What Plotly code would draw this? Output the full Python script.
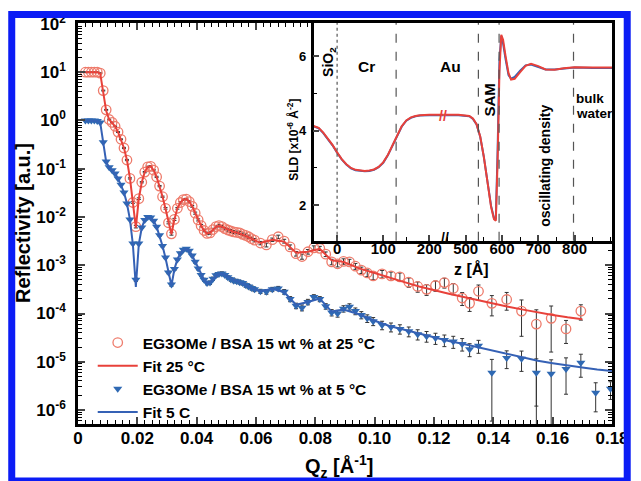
import plotly.graph_objects as go

# ---------------- data: reflectivity (log10 R) ----------------
q_low = [0.0025, 0.0035, 0.0045, 0.0055, 0.0065, 0.0075, 0.0085, 0.0095, 0.0105, 0.0115,
         0.0125, 0.0135, 0.0145, 0.0155, 0.0165, 0.0175, 0.0185, 0.0195, 0.0205, 0.0215,
         0.0225, 0.0235, 0.0245, 0.0255, 0.0265, 0.0275, 0.0285, 0.0295, 0.0305, 0.0315,
         0.0325, 0.0335, 0.0345, 0.0355, 0.0365, 0.0375, 0.0385, 0.0395, 0.0405, 0.0415,
         0.0425, 0.0435, 0.0445, 0.0455, 0.0465, 0.0475, 0.0485, 0.0495, 0.0505, 0.0515,
         0.0525, 0.0535, 0.0545, 0.0555, 0.0565, 0.0575, 0.0585, 0.0595]
q_mid = [0.0615, 0.0635, 0.0655, 0.0675, 0.0695, 0.0715, 0.0735, 0.0755, 0.0775, 0.0795,
         0.0815, 0.0835, 0.0855, 0.0875, 0.0895, 0.0915, 0.0935, 0.0955, 0.0975, 0.0995]
q_high = [0.1025, 0.1055, 0.1085, 0.1115, 0.1145, 0.1175, 0.1205, 0.1235, 0.1265, 0.1295, 0.1320]
q_tail_25 = [0.1350, 0.1395, 0.1445, 0.1495, 0.1545, 0.1595, 0.1645, 0.1695]
q_tail_5 = [0.1350, 0.1395, 0.1445, 0.1495, 0.1545, 0.1595, 0.1645, 0.1695, 0.1745, 0.1795]

logr25_low = [1.00, 1.00, 1.00, 1.00, 1.00, 0.98, 0.62, 0.22, 0.02, -0.04,
              -0.12, -0.24, -0.39, -0.57, -0.82, -1.20, -1.70, -2.20, -1.62, -1.28,
              -1.07, -0.96, -0.95, -1.03, -1.17, -1.36, -1.58, -1.82, -2.12, -2.35,
              -2.05, -1.82, -1.70, -1.64, -1.63, -1.68, -1.78, -1.92, -2.06, -2.18,
              -2.28, -2.34, -2.33, -2.26, -2.20, -2.18, -2.20, -2.24, -2.27, -2.29,
              -2.31, -2.32, -2.33, -2.36, -2.38, -2.41, -2.45, -2.48]
logr25_mid = [-2.54, -2.58, -2.47, -2.41, -2.50, -2.62, -2.76, -2.82, -2.72, -2.64,
              -2.65, -2.77, -2.93, -2.97, -2.92, -2.93, -3.02, -3.10, -3.16, -3.22]
logr25_high = [-3.18, -3.22, -3.24, -3.35, -3.44, -3.50, -3.42, -3.36, -3.48, -3.68, -3.79]
logr25_tail = [-3.54, -3.79, -3.71, -3.95, -4.22, -4.10, -4.32, -3.95]

logr5_low = [0.00, 0.00, 0.00, 0.00, -0.01, -0.04, -0.45, -0.85, -0.97, -1.03,
             -1.10, -1.20, -1.33, -1.49, -1.72, -2.05, -2.55, -3.30, -2.55, -2.22,
             -2.06, -2.00, -2.01, -2.08, -2.20, -2.38, -2.60, -2.84, -3.15, -3.40,
             -3.08, -2.88, -2.75, -2.68, -2.66, -2.70, -2.80, -2.93, -3.07, -3.20,
             -3.30, -3.37, -3.36, -3.28, -3.21, -3.18, -3.17, -3.20, -3.25, -3.29,
             -3.32, -3.33, -3.35, -3.37, -3.41, -3.44, -3.47, -3.50]
logr5_mid = [-3.54, -3.55, -3.50, -3.48, -3.55, -3.70, -3.84, -3.88, -3.76, -3.66,
             -3.70, -3.85, -3.98, -4.00, -3.90, -3.86, -3.95, -4.03, -4.10, -4.16]
logr5_high = [-4.24, -4.28, -4.32, -4.37, -4.43, -4.47, -4.51, -4.55, -4.58, -4.63, -4.74]
logr5_tail = [-4.67, -5.23, -4.92, -4.94, -5.23, -5.25, -5.15, -5.02, -5.64, -5.56]

# relative error (sigma / R)
err25_low = [0.02, 0.02, 0.02, 0.02, 0.02, 0.02, 0.02, 0.02, 0.02, 0.02,
             0.02, 0.02, 0.02, 0.03, 0.03, 0.03, 0.04, 0.06, 0.04, 0.03,
             0.03, 0.03, 0.03, 0.03, 0.03, 0.03, 0.03, 0.04, 0.05, 0.06,
             0.05, 0.04, 0.04, 0.04, 0.04, 0.04, 0.04, 0.05, 0.05, 0.06,
             0.06, 0.06, 0.06, 0.06, 0.06, 0.06, 0.06, 0.06, 0.06, 0.07,
             0.07, 0.07, 0.07, 0.07, 0.08, 0.08, 0.08, 0.08]
err25_mid = [0.08, 0.09, 0.08, 0.08, 0.09, 0.10, 0.11, 0.12, 0.11, 0.10,
             0.10, 0.11, 0.13, 0.14, 0.13, 0.13, 0.14, 0.15, 0.16, 0.17]
err25_high = [0.18, 0.20, 0.20, 0.22, 0.24, 0.25, 0.24, 0.23, 0.26, 0.30, 0.32]
err25_tail = [0.35, 0.45, 0.40, 0.70, 0.98, 0.80, 0.50, 0.35]

err5_low = [0.02, 0.02, 0.02, 0.02, 0.02, 0.02, 0.02, 0.02, 0.02, 0.02,
            0.02, 0.02, 0.03, 0.03, 0.03, 0.04, 0.05, 0.08, 0.05, 0.04,
            0.04, 0.04, 0.04, 0.04, 0.04, 0.04, 0.05, 0.05, 0.06, 0.08,
            0.06, 0.05, 0.05, 0.05, 0.05, 0.05, 0.05, 0.06, 0.06, 0.07,
            0.07, 0.08, 0.08, 0.08, 0.08, 0.08, 0.08, 0.08, 0.08, 0.09,
            0.09, 0.09, 0.09, 0.09, 0.10, 0.10, 0.10, 0.10]
err5_mid = [0.10, 0.11, 0.10, 0.10, 0.11, 0.12, 0.13, 0.14, 0.13, 0.12,
            0.12, 0.13, 0.15, 0.16, 0.15, 0.15, 0.16, 0.17, 0.18, 0.19]
err5_high = [0.20, 0.21, 0.22, 0.23, 0.24, 0.25, 0.26, 0.27, 0.28, 0.29, 0.30]
err5_tail = [0.30, 0.90, 0.40, 0.45, 0.95, 0.95, 0.70, 0.50, 0.60, 0.40]

# fits
fitq_coarse_25 = [0.0615, 0.0655, 0.0695, 0.0735, 0.0775, 0.0815, 0.0855, 0.0895, 0.0950, 0.1000,
                  0.1050, 0.1100, 0.1150, 0.1200, 0.1250, 0.1300, 0.1350, 0.1400, 0.1450, 0.1500,
                  0.1550, 0.1600, 0.1650, 0.1700]
fitq_coarse_5 = [0.0615, 0.0655, 0.0695, 0.0735, 0.0775, 0.0815, 0.0855, 0.0895, 0.0950, 0.1000,
                 0.1050, 0.1100, 0.1150, 0.1200, 0.1250, 0.1300, 0.1350, 0.1400, 0.1450, 0.1500,
                 0.1550, 0.1600, 0.1650, 0.1700, 0.1750, 0.1800]
fit25_low = [1.00, 1.00, 1.00, 1.00, 1.00, 0.97, 0.60, 0.20, 0.02, -0.04,
             -0.12, -0.24, -0.39, -0.57, -0.82, -1.19, -1.70, -2.22, -1.62, -1.28,
             -1.07, -0.96, -0.95, -1.03, -1.17, -1.36, -1.58, -1.83, -2.12, -2.36,
             -2.05, -1.82, -1.70, -1.64, -1.63, -1.68, -1.78, -1.92, -2.06, -2.18,
             -2.28, -2.34, -2.33, -2.27, -2.21, -2.19, -2.20, -2.23, -2.26, -2.29,
             -2.31, -2.32, -2.34, -2.36, -2.39, -2.42, -2.45, -2.48]
fit25_coarse = [-2.54, -2.47, -2.51, -2.74, -2.72, -2.66, -2.90, -2.93, -3.07, -3.16,
                -3.26, -3.35, -3.44, -3.52, -3.59, -3.66, -3.73, -3.80, -3.86, -3.92,
                -3.98, -4.03, -4.08, -4.12]
fit5_low = [0.00, 0.00, 0.00, 0.00, -0.01, -0.05, -0.47, -0.86, -0.97, -1.03,
            -1.10, -1.20, -1.33, -1.49, -1.72, -2.05, -2.57, -3.45, -2.56, -2.22,
            -2.06, -2.00, -2.01, -2.08, -2.20, -2.38, -2.60, -2.85, -3.17, -3.42,
            -3.08, -2.88, -2.75, -2.68, -2.66, -2.70, -2.80, -2.93, -3.07, -3.20,
            -3.30, -3.37, -3.36, -3.29, -3.22, -3.18, -3.18, -3.20, -3.24, -3.28,
            -3.31, -3.33, -3.35, -3.38, -3.41, -3.44, -3.47, -3.50]
fit5_coarse = [-3.54, -3.49, -3.56, -3.82, -3.76, -3.69, -3.96, -3.92, -4.02, -4.15,
               -4.26, -4.34, -4.42, -4.50, -4.57, -4.63, -4.70, -4.77, -4.85, -4.92,
               -4.98, -5.03, -5.08, -5.12, -5.16, -5.19]

# ---------------- inset: SLD profile ----------------
z_left = [-51, -40, -30, -20, -10, 0, 10, 20, 30, 40, 50, 60, 70, 80, 90, 100, 110, 120, 130,
          140, 150, 160, 170, 180, 200, 230]
sld25_left = [4.13, 4.08, 3.95, 3.80, 3.62, 3.42, 3.24, 3.10, 3.00, 2.95, 2.93, 2.92, 2.93, 2.96,
              3.03, 3.15, 3.35, 3.60, 3.88, 4.12, 4.28, 4.36, 4.40, 4.42, 4.43, 4.43]
sld5_left = [4.12, 4.07, 3.94, 3.79, 3.61, 3.41, 3.23, 3.09, 2.99, 2.94, 2.92, 2.91, 2.92, 2.95,
             3.02, 3.14, 3.34, 3.59, 3.87, 4.11, 4.27, 4.35, 4.39, 4.41, 4.42, 4.42]
z_right = [438, 480, 510, 520, 530, 540, 550, 560, 570, 578, 583, 588, 593, 598, 603, 610, 618,
           625, 635, 650, 665, 680, 700, 720, 745, 770, 800, 850, 903]
sld25_right = [4.43, 4.43, 4.40, 4.33, 4.18, 3.85, 3.30, 2.60, 1.95, 1.62, 1.58, 3.20, 5.60, 6.58,
               6.45, 6.00, 5.55, 5.38, 5.40, 5.58, 5.75, 5.80, 5.74, 5.65, 5.64, 5.68, 5.71, 5.70, 5.70]
sld5_right = [4.42, 4.42, 4.39, 4.32, 4.17, 3.84, 3.30, 2.62, 1.98, 1.65, 1.62, 3.50, 5.90, 6.55,
              6.35, 5.92, 5.50, 5.40, 5.45, 5.62, 5.76, 5.78, 5.72, 5.65, 5.65, 5.68, 5.70, 5.69, 5.69]
zlines_left = [0, 128]
zlines_right = [535, 592, 797]

ytick_exps = [2, 1, 0, -1, -2, -3, -4, -5, -6]
xtick_vals = [0, 0.02, 0.04, 0.06, 0.08, 0.10, 0.12, 0.14, 0.16, 0.18]
xtick_text = ["0", "0.02", "0.04", "0.06", "0.08", "0.10", "0.12", "0.14", "0.16", "0.18"]

# ---------------- assemble ----------------
q25 = q_low + q_mid + q_high + q_tail_25
q5 = q_low + q_mid + q_high + q_tail_5
lr25 = logr25_low + logr25_mid + logr25_high + logr25_tail
lr5 = logr5_low + logr5_mid + logr5_high + logr5_tail
e25 = err25_low + err25_mid + err25_high + err25_tail
e5 = err5_low + err5_mid + err5_high + err5_tail
fq25 = q_low + fitq_coarse_25
fq5 = q_low + fitq_coarse_5
f25 = fit25_low + fit25_coarse
f5 = fit5_low + fit5_coarse
for a, b in [(q25, lr25), (q25, e25), (q5, lr5), (q5, e5), (fq25, f25), (fq5, f5),
             (z_left, sld25_left), (z_left, sld5_left), (z_right, sld25_right), (z_right, sld5_right)]:
    if len(a) != len(b):
        raise ValueError(f"length mismatch {len(a)} {len(b)}")

r25 = [10 ** v for v in lr25]
r5 = [10 ** v for v in lr5]
s25 = [r * e for r, e in zip(r25, e25)]
s5 = [r * e for r, e in zip(r5, e5)]

FONT = "Liberation Sans, Arial, sans-serif"
W, H = 641, 481
L, R, T, B = 78, 622, 19, 424


def px(x):
    return (x - L) / (R - L)


def py(y):
    return (B - y) / (B - T)


RED_M = "#ee7b6b"
RED_L = "#e8413a"
BLUE_M = "#2f69b3"
BLUE_L = "#3561b5"
ERRC = "#333333"

fig = go.Figure()
fig.add_trace(go.Scatter(
    x=q25, y=r25, mode="markers", name="EG3OMe / BSA 15 wt % at 25 °C", legendrank=1,
    marker=dict(symbol="circle-open", size=9.5, color=RED_M, line=dict(width=1.3, color=RED_M)),
    error_y=dict(type="data", array=s25, color=ERRC, thickness=1, width=2)))
fig.add_trace(go.Scatter(
    x=q5, y=r5, mode="markers", name="EG3OMe / BSA 15 wt % at 5 °C", legendrank=3,
    marker=dict(symbol="triangle-down", size=8, color=BLUE_M),
    error_y=dict(type="data", array=s5, color=ERRC, thickness=1, width=2)))
fig.add_trace(go.Scatter(
    x=fq25, y=[10 ** v for v in f25], mode="lines", name="Fit 25 °C", legendrank=2,
    line=dict(color=RED_L, width=2)))
fig.add_trace(go.Scatter(
    x=fq5, y=[10 ** v for v in f5], mode="lines", name="Fit 5 C", legendrank=4,
    line=dict(color=BLUE_L, width=2)))

# inset traces
fig.add_trace(go.Scatter(x=z_left, y=sld5_left, xaxis="x2", yaxis="y2", mode="lines",
                         line=dict(color=BLUE_L, width=2), showlegend=False))
fig.add_trace(go.Scatter(x=z_left, y=sld25_left, xaxis="x2", yaxis="y2", mode="lines",
                         line=dict(color=RED_L, width=2), showlegend=False))
fig.add_trace(go.Scatter(x=z_right, y=sld5_right, xaxis="x3", yaxis="y2", mode="lines",
                         line=dict(color=BLUE_L, width=2), showlegend=False))
fig.add_trace(go.Scatter(x=z_right, y=sld25_right, xaxis="x3", yaxis="y2", mode="lines",
                         line=dict(color=RED_L, width=2), showlegend=False))

tickfont = dict(family=FONT, size=17, color="black", weight="bold")
minor_y = []
for k in range(-7, 2):
    for m in range(2, 10):
        minor_y.append(m * 10 ** k)

inset_xfont = dict(family=FONT, size=15, color="black", weight="bold")

fig.update_layout(
    width=W, height=H, margin=dict(l=L, r=W - R, t=T, b=H - B),
    paper_bgcolor="white", plot_bgcolor="white",
    font=dict(family=FONT, color="black"),
    xaxis=dict(range=[0, 0.18], tickvals=xtick_vals, ticktext=xtick_text, ticks="inside",
               ticklen=7, tickwidth=2, showline=True, linewidth=2.5, linecolor="black",
               mirror="allticks", showgrid=False, zeroline=False, tickfont=tickfont,
               ticklabelstandoff=-3,
               minor=dict(dtick=0.0025, ticks="inside", ticklen=4, tickwidth=1.3,
                          tickcolor="black", showgrid=False)),
    yaxis=dict(type="log", range=[-6.29, 2.02],
               tickvals=[10 ** e for e in ytick_exps],
               ticktext=[f"10<sup>{e}</sup>" for e in ytick_exps],
               ticks="inside", ticklen=7, tickwidth=2, showline=True, linewidth=2.5,
               linecolor="black", mirror="allticks", showgrid=False, zeroline=False,
               tickfont=tickfont, ticklabelstandoff=6,
               minor=dict(tickmode="array", tickvals=minor_y, ticks="inside", ticklen=4,
                          tickwidth=1.3, tickcolor="black", showgrid=False)),
    xaxis2=dict(domain=[px(318), px(450)], anchor="y2", range=[-51, 230],
                tickvals=[0, 100, 200], ticks="inside", ticklen=6, tickwidth=2,
                showline=True, linewidth=2.5, linecolor="black", showgrid=False,
                zeroline=False, tickfont=inset_xfont, ticklabelstandoff=-8,
                minor=dict(dtick=50, tick0=0, ticks="inside", ticklen=4, tickwidth=1.3,
                           tickcolor="black", showgrid=False)),
    xaxis3=dict(domain=[px(450), px(622)], anchor="y2", range=[438, 903],
                tickvals=[500, 600, 700, 800], ticks="inside", ticklen=6, tickwidth=2,
                showline=True, linewidth=2.5, linecolor="black", showgrid=False,
                zeroline=False, tickfont=inset_xfont, ticklabelstandoff=-8,
                minor=dict(dtick=50, tick0=0, ticks="inside", ticklen=4, tickwidth=1.3,
                           tickcolor="black", showgrid=False)),
    yaxis2=dict(domain=[py(239), 1.0], anchor="x2", range=[1.04, 6.9],
                tickvals=[2, 4, 6], ticks="inside", ticklen=6, tickwidth=2,
                showline=True, linewidth=2.5, linecolor="black", showgrid=False,
                zeroline=False, tickfont=dict(family=FONT, size=13, color="black", weight="bold"),
                ticklabelstandoff=2,
                minor=dict(dtick=1, tick0=0, ticks="inside", ticklen=4, tickwidth=1.3,
                           tickcolor="black", showgrid=False)),
    legend=dict(x=px(93), y=py(325), xanchor="left", yanchor="top", bgcolor="rgba(0,0,0,0)",
                font=dict(family=FONT, size=15.5, color="black", weight="bold"),
                itemwidth=40, tracegroupgap=0),
    showlegend=True,
)

shapes = []
for z in zlines_left:
    shapes.append(dict(type="line", xref="x2", yref="y2 domain", x0=z, x1=z, y0=0, y1=1,
                       line=dict(color="#555555", width=1.2, dash="dot" if z == 0 else "dash")))
for z in zlines_right:
    shapes.append(dict(type="line", xref="x3", yref="y2 domain", x0=z, x1=z, y0=0, y1=1,
                       line=dict(color="#555555", width=1.2, dash="dash")))
# blue frame of the picture
shapes.append(dict(type="rect", xref="paper", yref="paper", x0=px(10.5), x1=px(637.5),
                   y0=py(481.5), y1=py(10.5), line=dict(color="#0b1cf5", width=7),
                   fillcolor="rgba(0,0,0,0)", layer="above"))
fig.update_layout(shapes=shapes)

ann = []


def add_text(x, y, text, size, angle=0, color="black", xanchor="center"):
    ann.append(dict(x=px(x), y=py(y), xref="paper", yref="paper", text=text, showarrow=False,
                    textangle=angle, xanchor=xanchor, yanchor="middle",
                    font=dict(family=FONT, size=size, color=color, weight="bold")))


add_text(22, 221, "Reflectivity [a.u.]", 20, angle=-90)
add_text(344, 467, "Q<sub>z</sub> [Å<sup>-1</sup>]", 20)
add_text(297, 137, "SLD [x10<sup>-6</sup> Å<sup>-2</sup>]", 12, angle=-90)
add_text(479, 267, "z [Å]", 16)
add_text(333, 58, "SiO<sub>2</sub>", 14, angle=-90)
add_text(372, 63, "Cr", 15.5)
add_text(457, 63, "Au", 15.5)
add_text(497, 97, "SAM", 15, angle=-90)
add_text(553, 163, "oscillating density", 14, angle=-90)
add_text(583, 95, "bulk", 13.5, xanchor="left")
add_text(583, 110, "water", 13.5, xanchor="left")
add_text(450, 113, "//", 14, color=RED_L)
add_text(452, 236, "//", 14)
fig.update_layout(annotations=ann)

fig.write_html("out.html")
